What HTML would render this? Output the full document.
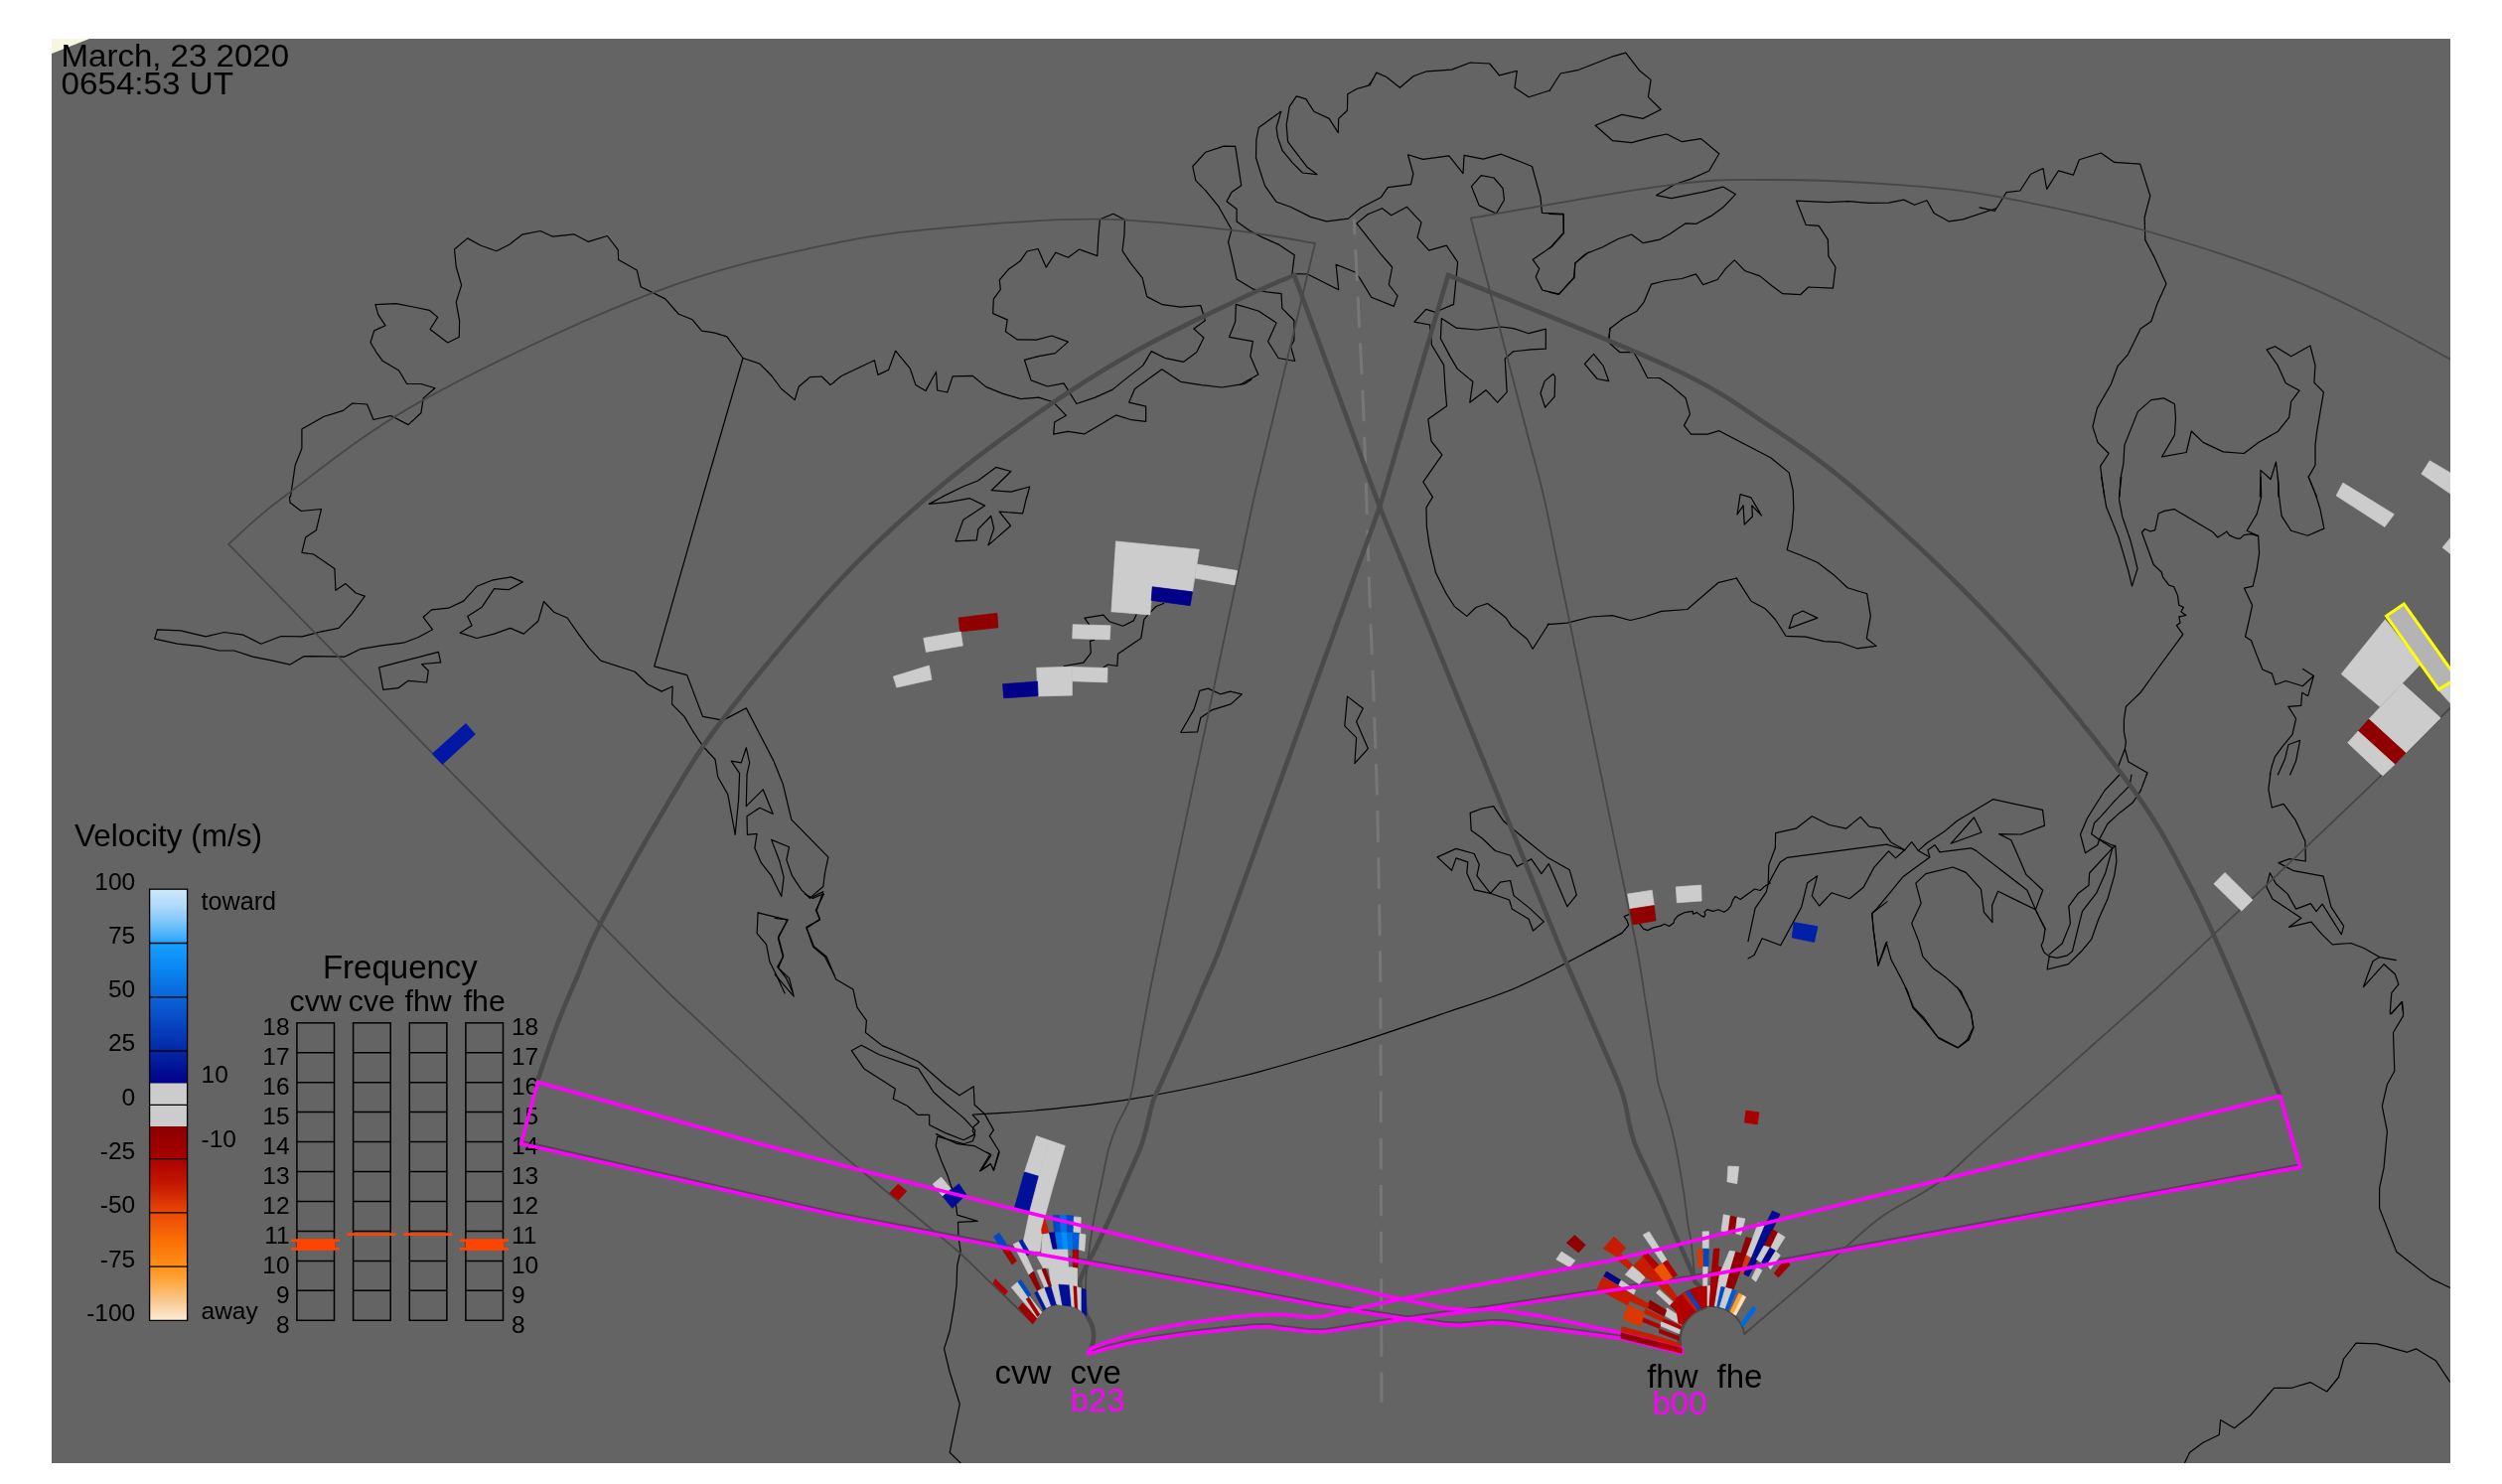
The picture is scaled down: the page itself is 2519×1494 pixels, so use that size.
<!DOCTYPE html>
<html><head><meta charset="utf-8"><title>SuperDARN fan plot</title>
<style>html,body{margin:0;padding:0;background:#fff;}body{width:2519px;height:1494px;overflow:hidden;}svg{display:block;}text{font-family:"Liberation Sans",sans-serif;}.c{fill:none;stroke:#000;stroke-width:1.2;stroke-linejoin:round;stroke-linecap:round;}.tn{fill:none;stroke:#474747;stroke-width:1.8;stroke-linejoin:miter;}.tk{fill:none;stroke:#4a4a4a;stroke-width:4.6;stroke-linejoin:miter;}.mg{fill:none;stroke:#ff00ff;stroke-width:3.6;stroke-linejoin:miter;}.bx{fill:none;stroke:#000;stroke-width:1.5;}</style></head><body>
<svg width="2519" height="1494" viewBox="0 0 2519 1494" style="will-change:transform">
<defs><clipPath id="mc"><rect x="52" y="39" width="2415" height="1434"/></clipPath>
<linearGradient id="gb" x1="0" y1="0" x2="0" y2="1"><stop offset="0" stop-color="#cce8fc"/><stop offset="0.07" stop-color="#b6ddfb"/><stop offset="0.16" stop-color="#84c8fa"/><stop offset="0.25" stop-color="#3eaefa"/><stop offset="0.28" stop-color="#16a0ff"/><stop offset="0.42" stop-color="#0a84f0"/><stop offset="0.555" stop-color="#0a64d8"/><stop offset="0.70" stop-color="#0844c0"/><stop offset="0.83" stop-color="#0228a8"/><stop offset="1" stop-color="#000088"/></linearGradient><linearGradient id="gr" x1="0" y1="0" x2="0" y2="1"><stop offset="0" stop-color="#8c0000"/><stop offset="0.16" stop-color="#a80000"/><stop offset="0.30" stop-color="#c41800"/><stop offset="0.44" stop-color="#e84808"/><stop offset="0.58" stop-color="#fa6c04"/><stop offset="0.72" stop-color="#ff9018"/><stop offset="0.80" stop-color="#ffa840"/><stop offset="0.90" stop-color="#f8c890"/><stop offset="1" stop-color="#ffecd8"/></linearGradient>
</defs>
<rect x="0" y="0" width="2519" height="1494" fill="#fff"/>
<rect x="52" y="39" width="2415" height="1434" fill="#646464"/>
<polygon points="52,39 90,39 52,54" fill="#f6f6e2"/>
<g clip-path="url(#mc)">
<polyline class="c" points="292.5,500.0 297.2,468.3 303.9,451.5 303.9,431.9 325.8,419.5 345.4,413.4 354.8,406.0 369.6,407.0 376.0,422.5 393.5,418.5 411.1,427.6 423.9,415.8 426.2,400.9 438.0,390.8 423.9,386.5 409.7,386.5 401.6,373.0 385.1,363.2 379.0,354.8 373.0,344.7 376.7,332.9 388.1,327.8 380.7,316.7 378.0,306.6 398.6,305.6 416.1,309.0 432.3,312.3 440.7,319.4 433.0,331.5 450.8,345.0 462.3,339.3 462.6,322.8 459.2,304.2 464.6,287.1 459.2,268.5 457.5,251.0 470.7,239.9 484.2,247.3 500.0,252.7 512.8,246.3 525.6,236.2 544.1,232.5 556.6,238.2 577.8,235.8 592.0,243.3 611.5,237.5 622.3,251.7 622.6,261.5 641.2,271.9 645.2,288.7 669.8,300.9 683.0,316.0 697.1,321.8 706.5,333.2 718.7,334.9 731.8,338.9 748.0,360.5 764.8,366.2 776.6,378.0 786.7,391.5 800.2,402.6 804.2,389.2 815.4,379.7 827.2,379.0 835.9,387.5 840.0,384.8"/>
<polyline class="c" points="840.0,384.3 847.1,378.5 880.4,362.7 883.9,377.4 894.6,372.4 901.6,353.2 916.2,370.8 921.9,387.6 932.0,393.4 942.5,374.2 943.7,393.0 953.8,395.0 959.2,378.9 979.0,378.3 992.6,389.4 1009.8,396.4 1027.6,401.7 1045.7,400.1 1060.3,404.7 1073.4,418.3 1061.7,424.9 1060.7,437.1 1075.0,434.4 1091.6,436.9 1107.8,427.4 1123.5,417.9 1139.1,422.7 1153.7,424.3 1153.7,409.2 1136.7,405.1 1142.5,391.4 1169.8,371.8 1188.6,384.3 1209.8,387.6 1230.1,390.0 1253.3,386.3 1260.0,381.9"/>
<polyline class="c" points="1083.9,406.5 1071.0,385.9 1054.6,389.0 1038.1,382.9 1031.4,362.3 1045.7,358.6 1062.3,355.6 1075.4,344.1 1058.9,338.0 1043.5,342.1 1024.3,341.9 1012.4,333.8 1014.2,321.9 999.7,315.6 1000.3,301.1 1007.3,291.4 1006.3,281.9 1015.4,271.1 1026.9,263.1 1034.0,253.0 1045.1,250.5 1053.2,269.1 1062.9,254.2 1075.4,259.2 1086.6,251.1 1104.8,257.6 1105.8,238.4 1107.4,220.8 1120.9,215.2 1132.4,221.2 1132.0,236.4 1130.0,252.5 1138.1,264.7 1150.2,279.8 1154.7,298.6 1170.4,306.7 1188.6,309.1 1208.8,307.5 1213.3,322.7 1201.8,331.0 1211.9,339.9 1204.8,354.6 1191.7,364.3 1173.5,360.7 1159.3,353.6 1150.6,368.1 1134.1,380.9 1119.9,392.4 1102.7,400.1 1083.9,406.5"/>
<polyline class="c" points="949.1,499.9 969.3,490.0 984.5,484.0 1002.7,470.4 1017.8,474.5 998.2,493.7 1017.8,495.1 1036.6,490.0 1034.0,499.9"/>
<polyline class="c" points="1248.7,387.2 1266.9,377.1 1258.8,358.5 1261.4,343.7 1237.6,339.3 1243.7,323.9 1244.3,306.4 1266.9,313.0 1285.1,324.9 1276.6,343.7 1287.1,360.5 1303.7,363.5 1299.6,348.8 1302.9,342.7 1302.9,322.5 1290.8,310.4 1290.1,295.6 1275.0,293.8 1261.9,291.2 1245.1,281.1 1240.0,257.8 1236.6,243.7 1240.0,231.2 1226.5,207.3 1213.8,191.8 1203.8,181.7 1200.8,167.5 1213.8,153.2 1232.1,147.1 1243.7,147.3 1246.7,166.9 1249.7,186.7 1240.0,193.6 1235.0,202.7 1245.1,210.4 1245.1,222.9 1257.8,232.0 1271.4,239.1 1287.1,246.1 1303.3,256.8 1300.9,275.6 1316.4,276.0 1347.7,291.8 1345.1,266.3 1364.3,274.0 1369.0,280.1 1380.7,299.3 1403.3,308.4 1407.0,297.9 1398.3,286.5 1401.7,269.0 1390.2,255.8 1365.9,224.9 1377.0,215.8 1391.6,209.7 1400.7,216.8 1416.5,208.3 1431.0,223.9 1427.0,239.1 1438.7,252.2 1456.3,247.1 1467.6,263.9 1463.5,306.4 1450.8,311.8 1445.4,314.4 1435.7,311.4 1423.9,324.1 1439.7,327.0 1440.7,342.7"/>
<polyline class="c" points="1289.7,112.3 1267.3,128.5 1264.9,140.6 1264.5,158.8 1268.9,173.0 1273.6,187.1 1285.1,203.3 1299.2,208.3 1319.5,218.4 1335.6,222.9 1357.4,220.1 1370.0,209.3 1390.2,198.8 1397.3,188.7 1420.5,185.7 1422.9,175.0 1417.5,155.8 1432.6,160.4 1458.9,156.8 1473.0,174.6 1474.1,156.4 1493.3,160.2 1511.4,155.2 1542.4,167.5 1550.9,198.2 1552.5,214.4 1574.1,215.4 1574.5,234.6 1562.6,248.1 1543.2,261.3 1549.8,270.6 1546.2,278.7 1552.9,292.2 1569.5,296.2 1584.8,279.1 1585.8,264.9 1596.3,255.8 1600.0,253.8"/>
<polyline class="c" points="1289.7,112.3 1285.1,128.5 1286.5,138.6 1291.2,151.7 1301.3,163.9 1311.4,174.0 1325.9,175.6 1315.8,167.9 1307.3,156.8 1296.6,142.7 1295.2,125.5 1298.2,107.3 1305.3,96.8 1314.8,99.6 1322.9,112.3 1338.2,119.4 1347.3,133.6 1347.7,119.4 1356.4,111.3 1356.8,94.8 1365.9,89.5 1377.7,86.1 1382.1,80.0"/>
<polyline class="c" points="1491.2,176.6 1504.0,179.0 1513.1,189.7 1514.5,201.3 1506.4,215.0 1489.2,206.9 1481.5,187.7 1491.2,176.6"/>
<polyline class="c" points="1451.4,320.5 1466.4,330.2 1487.2,332.0 1511.4,329.0 1523.6,330.6 1539.1,335.7 1556.3,331.2 1556.3,351.2 1541.8,351.8 1523.6,353.8 1515.5,360.9"/>
<polyline class="c" points="1451.4,320.5 1450.4,340.7 1458.9,356.9"/>
<polyline class="c" points="1560.0,91.5 1571.1,74.0 1588.3,70.7 1622.7,57.2 1636.8,53.1 1650.9,71.3 1662.1,80.4 1659.4,97.6 1672.2,110.3 1654.0,119.4 1632.8,115.4 1606.1,126.3 1623.7,141.7 1642.5,143.7 1665.1,137.6 1678.2,135.0 1693.4,142.7 1712.6,139.6 1730.8,154.8 1720.7,172.0 1702.5,180.1 1686.3,185.5 1667.7,196.6 1682.9,199.7 1717.6,192.6 1734.8,188.1 1747.3,195.6 1734.8,208.8 1722.7,217.4 1707.9,225.3 1696.8,224.9 1681.3,235.4 1671.2,241.1 1654.4,244.7 1642.5,236.0 1628.7,240.7 1613.6,248.8 1598.4,254.8 1585.9,264.9 1584.9,279.5 1569.5,296.3 1560.0,294.2"/>
<polyline class="c" points="1560.0,215.4 1574.1,215.8 1574.1,234.4 1560.0,250.2"/>
<polyline class="c" points="1620.2,339.9 1620.6,331.0 1634.4,320.5 1647.9,313.2 1655.0,304.3 1662.5,286.2 1677.2,282.5 1693.4,280.5 1707.5,275.9 1714.6,286.6 1729.2,281.5 1737.4,270.4 1746.3,261.9 1757.0,272.8 1771.8,277.9 1784.3,288.0 1794.8,295.7 1812.6,296.7 1820.7,289.0 1845.4,290.2 1848.0,269.0 1840.9,257.9 1840.3,241.1 1831.2,227.3 1818.1,226.3 1808.6,202.1 1840.9,203.7 1861.1,202.7 1881.3,204.3 1901.6,204.1 1916.7,201.1 1927.4,206.3 1940.0,201.7 1947.0,214.4 1962.2,222.9 1976.3,220.9 2009.7,209.8"/>
<polyline class="c" points="1993.0,208.9 2008.5,212.3 2020.0,193.7 2033.8,192.0 2044.6,175.2 2057.0,169.5 2060.7,190.4 2072.5,171.8 2087.4,176.2 2093.4,160.7 2115.3,154.0 2128.8,163.4 2154.7,165.1 2164.8,197.1 2159.1,219.0 2159.8,241.6 2169.2,259.4 2181.0,285.7 2171.6,306.6 2165.9,323.5 2155.1,330.9 2142.3,357.1 2132.2,368.3 2125.4,386.8 2111.3,411.1 2106.9,429.6 2112.0,445.4 2123.1,456.5 2114.6,469.3 2118.7,500.0"/>
<polyline class="c" points="2133.9,500.0 2134.9,481.8 2137.9,466.6 2138.9,448.1 2152.4,414.4 2165.9,402.6 2178.7,400.9 2189.4,406.7 2190.5,421.2 2189.4,438.0 2176.6,459.9 2201.2,455.5 2206.3,434.0 2218.1,445.4 2238.3,454.9 2259.2,456.5 2273.7,445.4 2293.2,434.6 2304.7,420.1 2306.7,404.3 2315.1,393.2 2301.3,385.8 2292.9,367.3 2282.1,352.1 2290.5,348.7 2306.7,358.8 2325.9,348.0 2331.0,367.9 2329.9,385.1 2339.4,394.9 2332.6,434.6 2331.0,448.1 2331.0,468.3 2324.2,480.1 2331.0,497.0 2332.6,500.0"/>
<polyline class="c" points="2275.4,500.0 2276.0,473.4 2286.1,482.5 2291.5,465.0 2293.9,486.9 2293.9,500.0"/>
<polyline class="c" points="1379.1,85.9 1385.8,73.1 1395.9,77.5 1409.4,88.3 1422.9,76.8 1436.4,71.8 1461.6,70.1 1480.2,63.0 1499.7,64.0 1509.5,75.8 1527.3,71.4 1525.0,88.3 1539.1,97.7 1560.4,91.0"/>
<polyline class="c" points="1440.4,330.0 1441.4,347.2 1453.6,367.4 1455.0,390.6 1456.6,408.8 1437.8,422.0 1441.0,444.2 1451.9,457.9 1432.9,485.2 1442.4,500.4 1436.0,510.9 1436.4,530.1 1439.0,548.3 1445.5,576.6 1455.6,596.8 1464.3,610.5 1476.8,620.4 1485.9,611.5 1497.6,607.5 1510.1,617.0 1516.2,622.0 1521.3,629.9"/>
<polyline class="c" points="1458.8,356.9 1467.3,371.4 1482.9,384.2 1479.8,405.2 1496.0,392.7 1507.7,405.2 1517.2,394.7 1515.2,361.3"/>
<polyline class="c" points="1563.7,376.5 1565.7,379.5 1565.1,399.3 1555.6,410.2 1551.0,395.7 1555.2,383.6 1563.7,376.5"/>
<polyline class="c" points="1604.5,356.3 1614.2,368.4 1619.7,383.6 1608.2,381.5 1595.4,366.4 1604.5,356.3"/>
<polyline class="c" points="1752.1,497.7 1762.8,500.8 1773.5,519.0 1763.8,508.9 1764.4,520.0 1756.3,528.1 1755.1,508.9 1749.0,518.0 1752.1,497.7"/>
<polyline class="c" points="1621.3,330.0 1619.9,339.1 1620.3,345.2 1631.0,354.7 1644.5,354.3 1650.6,364.4 1658.7,380.5 1670.8,380.5 1682.9,388.6 1697.1,400.7 1701.5,416.9 1695.5,428.4 1702.5,437.1 1719.3,437.1 1730.8,433.7 1756.7,447.2 1783.0,461.0 1801.2,475.9 1805.2,493.7 1805.8,511.9 1804.2,532.1 1799.2,553.3"/>
<polyline class="c" points="1558.2,628.7 1577.8,627.1 1602.1,621.0 1623.3,619.6 1641.5,624.5 1655.7,621.0 1672.8,615.4 1698.7,613.5 1729.8,586.7 1748.6,582.0"/>
<polyline class="c" points="1799.5,553.8 1813.6,559.2 1829.8,566.3 1845.9,578.4 1860.1,591.8 1879.7,597.8 1883.3,620.1 1879.3,642.7 1889.0,650.4 1869.6,652.8 1852.6,646.7 1836.2,645.7 1818.2,641.1 1798.0,640.3 1787.3,623.5 1777.2,612.8 1763.1,605.3 1748.3,582.1"/>
<polyline class="c" points="1805.5,619.5 1815.0,615.0 1829.8,622.1 1801.1,632.6 1805.5,619.5"/>
<polyline class="c" points="2132.8,771.0 2139.4,753.8 2142.9,767.0 2162.1,778.1 2161.1,779.9"/>
<polyline class="c" points="2139.4,753.8 2140.4,746.8 2138.4,736.7 2138.4,724.5 2140.4,711.4 2155.0,697.3 2173.2,672.0 2197.8,638.6 2191.4,629.6 2195.0,626.9 2193.8,620.9 2200.9,619.5 2195.8,615.8 2198.4,611.4 2193.8,609.3 2192.4,599.2 2188.7,590.8 2183.7,589.1 2177.6,581.1 2176.2,576.0 2168.1,568.3 2156.4,536.0 2159.4,532.5 2165.1,535.0 2169.7,533.6 2173.2,517.0 2179.2,514.4 2189.3,512.7 2201.5,520.0 2227.7,535.6 2232.8,541.0 2238.5,537.6 2241.9,535.0 2244.3,538.6 2252.0,542.2 2255.6,542.2 2259.1,538.6 2266.1,537.6 2273.6,539.6 2274.6,556.8 2272.2,573.0 2268.2,590.1 2259.5,592.2 2267.6,609.3 2264.1,625.5 2260.5,641.1 2266.5,644.7 2272.2,659.9 2277.9,674.0 2287.4,678.1 2291.0,689.2 2301.5,685.5 2318.3,690.8 2329.4,680.5 2323.7,700.7 2317.7,697.3 2316.7,710.4 2303.9,711.4 2311.6,723.5 2308.0,739.3 2298.5,750.8 2290.4,761.9 2287.4,771.0 2285.3,779.9"/>
<polyline class="c" points="2318.7,673.4 2329.4,680.5"/>
<polyline class="c" points="2273.6,539.6 2262.1,534.2 2272.2,517.4 2276.7,500.2 2276.2,480.0"/>
<polyline class="c" points="2293.4,480.0 2294.4,498.2 2297.1,519.4 2306.6,534.2 2323.3,539.2 2339.9,532.1 2335.9,512.3 2330.8,496.2 2324.1,480.0"/>
<polyline class="c" points="2115.6,480.0 2120.6,510.3 2132.8,540.6 2138.8,560.8 2142.9,575.0 2146.5,590.1 2152.0,572.6 2148.3,556.8 2144.5,542.7 2136.8,520.4 2133.4,502.2 2135.8,480.0"/>
<polyline class="c" points="2293.4,779.9 2300.5,764.0 2303.9,749.8 2315.7,745.2 2311.6,766.0 2305.6,779.9"/>
<polyline class="c" points="1917.6,855.8 1903.5,847.7 1893.4,834.2 1881.9,832.1 1873.2,822.4 1858.6,834.2 1841.9,830.5 1824.3,821.8 1808.1,834.2 1787.7,838.6 1787.3,853.8 1780.8,870.9 1780.2,890.1 1778.2,898.2 1767.1,914.4 1763.0,933.6 1760.0,947.7"/>
<polyline class="c" points="1780.2,890.1 1787.3,877.0 1792.3,867.9 1799.4,863.3 1899.5,850.1 1917.6,855.8"/>
<polyline class="c" points="1760.0,964.9 1766.1,961.5 1774.1,944.7 1792.7,951.8 1813.6,913.4 1819.6,889.1 1829.7,881.7 1824.3,901.9 1831.7,912.0 1843.9,898.8 1862.1,904.7 1876.2,893.2 1886.7,873.4 1901.5,856.8 1908.5,863.9 1917.6,855.8 1924.7,847.7 1931.4,856.4 1942.9,862.9 1927.7,874.0 1915.6,883.1 1902.5,899.2 1889.3,915.0 1884.7,919.5 1886.3,937.6 1891.0,972.0 1899.5,949.8 1903.9,965.9 1913.6,984.1 1920.7,998.3 1925.7,1014.4 1937.8,1027.6 1951.0,1044.1 1971.2,1054.9 1982.3,1046.8 1987.0,1034.6 1984.3,1019.5 1974.2,997.7 1959.1,984.1 1945.9,974.4 1935.8,962.9 1931.8,947.7 1924.7,929.6 1934.2,909.3 1928.8,889.1 1938.9,879.6 1966.1,873.0 1979.3,878.4 1994.4,895.2 1997.5,918.4 2006.0,928.5 2005.6,911.4 2011.6,897.2 2049.4,915.8"/>
<polyline class="c" points="1931.4,856.4 1939.9,848.7 1957.0,837.6 1970.2,826.5 2006.6,804.7 2056.5,815.4 2058.5,831.1 2034.9,840.0 2012.6,839.6 2024.8,845.7 2039.9,880.4 2056.7,896.2 2049.4,915.8 2053.0,923.5 2059.1,934.6 2057.1,947.7 2055.1,951.8 2058.1,958.9 2063.2,962.9 2071.2,964.3 2081.3,961.9 2086.4,957.8 2091.4,937.6 2096.5,917.4 2110.6,899.2 2119.7,879.0 2126.8,853.8"/>
<polyline class="c" points="1942.9,862.9 1940.9,855.8 1948.0,850.7 1953.0,857.8 1984.3,853.8 1989.4,856.4 2040.9,896.2 2049.4,915.8 2059.1,935.6"/>
<polyline class="c" points="1987.4,823.0 1995.0,838.0 1964.1,849.3 1987.4,823.0"/>
<polyline class="c" points="2063.2,962.9 2061.1,976.0 2082.4,970.6 2095.5,957.8 2105.6,945.7 2112.7,925.5 2121.8,905.3 2128.8,881.1 2130.9,866.9 2129.8,851.7 2126.8,853.8 2103.6,879.0 2103.0,891.2 2092.5,899.2 2082.8,912.4 2084.4,929.6 2076.3,949.8 2063.2,960.9"/>
<polyline class="c" points="2126.8,853.8 2112.7,844.7 2105.6,839.6 2108.6,828.5 2115.7,821.4 2129.8,805.3 2144.0,791.1 2146.0,780.0"/>
<polyline class="c" points="2161.2,780.0 2155.1,796.2 2147.0,808.3 2133.9,818.4 2121.8,829.5 2113.7,844.7 2125.8,850.7 2129.8,851.7"/>
<polyline class="c" points="2133.9,780.0 2118.7,796.2 2101.6,823.5 2094.5,840.0 2099.5,858.8 2111.7,850.7 2113.7,844.7"/>
<polyline class="c" points="1600.0,957.3 1633.0,939.3 1639.6,931.5 1638.1,926.7 1635.1,922.5 1641.4,920.1 1650.4,929.7 1654.6,935.1 1658.8,936.6 1664.7,933.9 1671.9,932.1 1675.8,930.3 1680.6,932.5 1685.1,929.1 1685.7,926.1 1689.3,921.9 1695.9,918.7 1704.1,917.4 1704.6,920.1 1708.5,918.6 1712.7,921.9 1715.7,923.1 1716.9,920.7 1716.1,918.3 1718.7,915.7 1724.7,917.4 1730.1,915.7 1735.7,918.3 1739.7,915.7 1742.7,911.8 1744.5,906.4 1747.2,902.4 1752.3,905.4 1755.9,902.8 1766.7,895.0 1772.1,896.5 1776.3,892.6 1782.3,889.0"/>
<polyline class="c" points="1900.0,907.6 1884.8,919.5 1886.0,933.9 1890.8,972.3 1898.6,949.5 1900.0,948.3"/>
<polyline class="c" points="291.4,500.0 292.1,506.1 303.2,514.5 323.5,512.5 318.4,533.7 307.6,541.1 303.9,556.3 315.7,558.0 336.9,572.4 337.9,594.3 348.0,587.6 358.2,597.0 367.3,600.1 353.8,618.6 341.0,632.4 323.5,635.8 304.2,640.8 283.0,640.5 262.8,648.2 244.9,639.2 225.7,636.5 207.2,640.8 181.9,634.8 158.4,633.8 155.7,643.2 178.6,648.2 202.2,650.6 220.7,655.0 235.8,655.0 254.4,661.1 274.6,665.1 292.1,669.1 305.9,660.7 347.0,661.1 363.2,653.3 384.1,649.9 406.0,647.2 421.2,641.5 435.6,633.8 426.2,621.3 434.6,613.9 451.5,612.2 466.6,605.1 480.1,590.3 495.3,584.2 514.5,580.9 526.3,585.9 512.1,593.7 497.6,592.7 485.2,611.2 470.7,620.6 475.1,629.7 463.3,637.1 480.1,642.5 497.6,638.1 513.8,632.4 527.3,638.1 541.8,625.3 547.5,605.5 557.6,616.2 571.1,622.0 582.9,638.8 593.0,652.3 604.8,665.1 639.2,676.2 652.0,688.7 666.1,696.1 677.2,691.0 676.5,708.9 689.0,721.4 697.4,735.8 707.5,751.0 720.0,764.5 722.7,782.0 732.8,799.9 740.2,840.3 743.6,804.9 744.6,778.6 736.2,766.2 746.3,767.9 751.3,752.7 754.7,767.9 752.0,779.6 751.3,811.7 768.2,794.8 778.3,819.4 764.8,813.3 752.0,821.8 752.4,840.3 762.1,839.3 759.8,853.8 766.5,868.9 776.6,881.7 786.7,902.6 789.1,883.1 785.0,867.3 776.6,845.4 794.5,852.8 791.8,865.6 797.5,881.7 806.9,895.9 815.4,904.3 828.8,897.6 822.1,916.8 825.5,925.2 812.0,934.6 818.7,953.2 830.5,963.3 840.0,981.8"/>
<polyline class="c" points="748.0,360.5 707.5,500.0 658.7,670.8 691.7,679.6 707.5,721.4 727.8,725.1 751.3,712.9 779.0,766.2 788.4,789.8 796.8,825.1 833.9,862.9 830.5,879.0 828.8,892.5 817.0,902.6"/>
<polyline class="c" points="763.1,918.8 792.8,926.2 783.4,944.7 788.4,963.3 782.7,973.4 791.8,985.2 798.5,1000.0"/>
<polyline class="c" points="763.1,918.8 762.1,939.7 771.6,950.8 774.9,968.3 781.7,981.8 790.1,1000.0"/>
<polyline class="c" points="381.7,671.8 441.4,656.3 443.7,666.8 424.5,668.5 431.3,675.2 429.6,687.0 411.1,685.3 400.9,692.7 385.8,694.4 381.7,671.8"/>
<polyline class="c" points="949.2,500.0 935.4,507.4 954.6,505.7 976.5,501.7 991.6,509.1 969.7,523.6 962.0,544.8 983.2,543.8 984.9,532.7 997.7,519.5 1000.7,532.0 995.0,548.9 1017.6,529.3 1006.1,515.2 1029.7,516.8 1033.7,500.0"/>
<polyline class="c" points="1188.7,737.5 1202.2,713.9 1207.9,695.4 1216.3,693.1 1228.5,698.8 1238.6,696.1 1250.4,698.8 1239.3,708.9 1220.7,714.6 1208.9,722.4 1205.6,736.9 1188.7,737.5"/>
<polyline class="c" points="1356.5,701.1 1372.3,713.3 1365.6,726.4 1377.4,753.7 1363.9,768.5 1365.6,742.6 1353.8,730.8 1356.5,701.1"/>
<polyline class="c" points="1447.1,862.9 1466.0,854.4 1484.2,859.5 1489.3,870.6 1486.9,881.7 1500.4,899.3 1510.5,888.1 1520.6,886.5 1524.0,901.6 1540.1,914.4 1554.3,927.9 1543.5,937.0 1539.1,925.2 1522.3,915.1 1519.6,906.0 1500.4,899.3 1484.5,895.9 1476.8,879.0 1477.8,867.9 1466.0,863.9 1461.6,876.3 1447.1,862.9"/>
<polyline class="c" points="1480.2,818.4 1492.0,814.0 1503.7,811.7 1513.9,826.8 1534.1,843.7 1557.7,862.9 1580.2,875.7 1587.3,900.9 1577.9,912.7 1559.3,869.6 1551.9,879.7 1541.8,864.9 1527.3,872.3 1520.6,861.2 1505.4,856.5 1492.0,843.7 1481.2,835.9 1480.2,818.4"/>
<polyline class="c" points="1521.3,630.1 1537.4,643.2 1543.2,653.3 1559.3,628.0"/>
<polyline class="c" points="1071.4,670.5 1090.8,667.2 1098.3,657.3 1097.5,645.4 1101.7,644.2"/>
<polyline class="c" points="1096.4,628.7 1091.9,622.2 1110.9,619.2 1116.9,625.7 1130.6,630.2 1141.2,624.9 1144.0,618.9"/>
<polyline class="c" points="1110.9,672.0 1115.4,669.0 1124.8,670.5 1125.6,658.3 1148.8,642.4 1151.9,623.4 1157.9,616.6 1164.0,610.5 1171.6,607.5"/>
<polyline class="c" points="829.5,900.0 821.4,916.2 825.5,925.9 811.9,933.4 819.4,952.6 832.2,963.3 841.7,985.9 858.9,996.0 862.9,1014.2 872.4,1027.4 871.4,1039.5 888.2,1052.6 905.4,1059.7 924.6,1068.8 951.9,1092.7 966.0,1102.8 980.2,1093.7 981.2,1112.3 991.3,1121.4 1000.4,1137.6 996.3,1143.6 1005.8,1158.8 1000.4,1178.0 997.3,1171.5 987.6,1178.6 997.8,1162.8 981.2,1153.7 972.1,1152.7 963.0,1151.3 942.4,1141.6"/>
<polyline class="c" points="979.2,1122.4 985.8,1129.5 980.2,1134.5 979.2,1138.6 981.8,1142.6 979.2,1148.7 970.1,1151.7 963.0,1149.7 943.8,1144.2 942.2,1153.7 947.8,1168.9 953.9,1183.1 957.9,1195.2"/>
<polyline class="c" points="867.3,1052.2 857.2,1057.7 870.0,1075.9 901.3,1096.1 899.3,1106.2 913.4,1113.3 924.0,1122.4 935.7,1122.4 935.7,1132.5 951.9,1140.6 970.1,1147.7 980.2,1142.6 981.8,1138.2 970.1,1125.4 951.9,1110.3 939.7,1099.2 924.6,1075.9 919.5,1073.9 885.1,1061.7 867.3,1052.2"/>
<polyline class="c" points="780.0,924.3 793.1,925.9 783.6,943.1 788.7,962.3 783.6,974.4 794.6,984.9 799.2,1003.1 780.0,980.9"/>
<polyline class="c" points="810.3,900.0 818.4,904.4 828.5,900.0"/>
<polyline class="c" points="2285.9,778.6 2283.9,794.8 2287.3,813.0 2299.1,809.4 2310.8,825.1 2320.9,847.0 2321.3,867.0 2305.1,864.6 2294.0,868.6 2309.2,876.7 2339.1,882.2 2347.0,913.1 2359.7,932.3 2357.3,940.8 2338.1,910.1 2332.0,917.7 2326.4,909.6 2311.6,915.1 2303.1,899.9 2291.4,889.8 2285.3,878.7 2281.9,892.9 2287.9,905.0 2316.9,924.2 2304.5,933.3 2327.0,928.2 2337.5,940.4 2348.2,950.9 2366.8,949.5 2379.9,954.5 2395.7,963.6 2412.3,966.7"/>
<polyline class="c" points="2395.7,963.6 2389.0,967.7 2384.0,980.8 2379.5,993.6 2400.2,970.7 2411.3,980.8 2414.9,990.9 2407.8,999.6 2406.2,1020.0"/>
<polyline class="c" points="2408.2,1020.0 2418.0,1008.7 2419.8,1020.0"/>
<polyline class="c" points="1918.2,994.0 1926.6,1014.2 1936.7,1024.3 1951.9,1045.5 1971.1,1054.6 1980.5,1046.9 1986.6,1034.4 1984.6,1019.3 1973.8,999.1 1970.4,994.0"/>
<polyline class="c" points="2406.8,1021.0 2418.6,1008.5 2419.6,1022.6 2409.5,1039.5 2410.8,1078.2 2403.4,1091.7 2398.3,1113.6 2403.4,1138.9 2400.0,1175.9 2395.6,1196.2 2395.6,1216.4 2412.8,1260.2 2447.2,1287.1 2466.4,1296.2"/>
<polyline class="c" points="2199.6,1472.4 2204.6,1462.3 2218.1,1452.2 2234.3,1444.5 2235.6,1429.6 2249.4,1437.7 2265.3,1425.3 2289.5,1397.3 2307.4,1397.3 2325.9,1391.6 2342.7,1401.0 2354.5,1386.5 2359.6,1368.0 2372.1,1352.2 2393.3,1352.8 2423.6,1361.3 2432.7,1357.9 2452.2,1369.7 2466.4,1390.9"/>
<polyline class="c" points="957.9,1195.2 958.8,1196.4 962.5,1213.4 963.7,1223.1 984.3,1229.4 964.5,1230.4 964.9,1244.9 967.1,1259.5 963.7,1274.0 963.1,1293.4 960.1,1317.7 956.2,1340.0 950.5,1357.9 956.2,1381.5 966.3,1413.5 959.6,1445.5 956.2,1462.3 967.4,1473.1"/>
<polyline class="c" points="986.7,1178.8 997.0,1161.8 993.4,1160.0"/>
<polyline class="c" points="1006.1,1160.0 1000.4,1178.2 997.4,1172.1 986.7,1178.8"/>
<path class="c" d="M979.8 1122.0 C990.2 1121.3 1016.1 1120.5 1042.2 1118.0 C1068.3 1115.5 1102.8 1112.4 1136.5 1106.9 C1170.2 1101.4 1209.5 1093.4 1244.3 1085.0 C1279.1 1076.6 1311.7 1066.7 1345.4 1056.3 C1379.1 1045.9 1416.2 1033.0 1446.5 1022.6 C1476.8 1012.2 1501.7 1004.9 1527.3 994.0 C1552.9 983.1 1582.4 966.4 1600.0 957.3 C1617.6 948.2 1627.5 942.3 1633.0 939.3"/>
<path class="tn" d="M1038.8 1331.0 C1032.6 1325.1 1014.1 1307.3 1001.8 1295.5 C989.4 1283.7 977.8 1271.7 964.7 1260.0 C951.6 1248.3 937.0 1236.8 923.1 1225.2 C909.3 1213.6 895.4 1202.1 881.6 1190.5 C867.7 1178.9 854.0 1168.1 840.0 1155.7 C826.0 1143.3 811.8 1129.2 797.6 1116.0 C783.5 1102.8 769.4 1089.6 755.2 1076.3 C741.1 1063.1 727.0 1049.9 712.9 1036.7 C698.8 1023.4 685.1 1011.2 670.5 997.0 C655.9 982.8 640.4 966.5 625.3 951.2 C610.3 935.9 595.2 920.6 580.2 905.4 C565.1 890.1 550.1 874.8 535.0 859.5 C520.0 844.3 504.9 829.0 489.9 813.7 C474.8 798.4 459.4 782.9 444.7 767.9 C430.0 752.9 416.1 738.6 401.8 723.9 C387.5 709.2 373.2 694.5 358.9 679.9 C344.6 665.2 330.2 650.5 315.9 635.8 C301.6 621.2 287.3 606.5 273.0 591.8 C258.7 577.1 237.3 555.1 230.1 547.8 L230.1 547.8 C239.4 539.8 253.3 524.2 286.0 500.0 C318.7 475.8 364.4 436.8 426.2 402.6 C488.0 368.4 588.0 321.1 657.0 294.8 C726.0 268.5 787.0 256.0 840.0 244.8 C893.0 233.6 929.9 231.4 974.8 227.4 C1019.7 223.4 1065.1 220.0 1109.5 220.7 C1153.9 221.4 1205.2 227.8 1241.0 231.8 C1276.8 235.9 1310.2 242.8 1324.0 245.0 L1324.0 245.0 C1321.5 255.6 1313.8 287.5 1308.7 308.8 C1303.6 330.0 1298.5 351.2 1293.4 372.5 C1288.3 393.8 1283.2 415.0 1278.1 436.2 C1273.0 457.5 1267.7 478.4 1262.8 500.0 C1257.9 521.6 1253.5 543.8 1248.9 565.7 C1244.2 587.6 1239.6 609.5 1235.0 631.4 C1230.3 653.3 1225.7 675.2 1221.1 697.1 C1216.4 719.0 1211.8 741.0 1207.1 762.9 C1202.5 784.8 1197.9 806.7 1193.2 828.6 C1188.6 850.5 1184.0 872.4 1179.3 894.3 C1174.7 916.2 1169.3 941.4 1165.4 960.0 C1161.5 978.6 1159.2 989.8 1156.2 1005.8 C1153.2 1021.8 1149.8 1041.3 1147.1 1056.2 C1144.4 1071.1 1142.1 1086.0 1140.2 1095.2 C1138.3 1104.4 1138.3 1104.7 1135.6 1111.2 C1132.9 1117.7 1127.3 1126.5 1124.1 1134.1 C1120.8 1141.7 1118.6 1147.8 1116.1 1157.0 C1113.6 1166.2 1111.8 1177.3 1109.3 1189.1 C1106.8 1200.9 1103.3 1216.5 1101.2 1228.0 C1099.1 1239.5 1098.0 1247.5 1096.7 1257.8 C1095.4 1268.1 1093.7 1278.7 1093.2 1289.9 C1092.8 1301.1 1093.9 1319.0 1094.0 1324.8"/>
<path class="tn" d="M1706.6 1290.4 C1706.3 1286.9 1705.4 1276.5 1704.7 1269.6 C1704.0 1262.7 1703.3 1255.0 1702.4 1248.9 C1701.5 1242.8 1700.7 1240.7 1699.5 1233.0 C1698.3 1225.3 1697.2 1213.8 1695.5 1202.7 C1693.8 1191.6 1691.4 1177.1 1689.4 1166.3 C1687.4 1155.5 1685.8 1147.5 1683.4 1138.0 C1681.1 1128.5 1677.7 1117.7 1675.3 1109.6 C1672.9 1101.5 1670.9 1097.5 1669.2 1089.4 C1667.5 1081.3 1667.2 1074.2 1665.2 1061.1 C1663.2 1048.0 1659.8 1027.5 1657.1 1010.6 C1654.4 993.8 1652.6 979.4 1649.0 960.0 C1645.4 940.6 1640.0 916.2 1635.5 894.3 C1631.0 872.4 1626.5 850.5 1621.9 828.6 C1617.4 806.7 1612.9 784.8 1608.4 762.9 C1603.9 741.0 1599.4 719.0 1594.9 697.1 C1590.4 675.2 1585.9 653.3 1581.4 631.4 C1576.8 609.5 1572.3 587.6 1567.8 565.7 C1563.3 543.8 1559.0 520.3 1554.3 500.0 C1549.6 479.7 1544.5 462.6 1539.6 443.9 C1534.7 425.3 1529.8 406.6 1524.9 387.9 C1520.0 369.2 1515.1 350.5 1510.2 331.8 C1505.3 313.1 1500.4 294.4 1495.5 275.8 C1490.6 257.1 1483.2 229.0 1480.8 219.7 L1480.8 219.7 C1514.0 214.1 1630.1 192.8 1680.0 186.3 C1729.9 179.9 1740.9 181.0 1780.0 181.0 C1819.1 181.0 1875.5 183.3 1914.8 186.3 C1954.1 189.3 1975.0 191.1 2016.0 198.8 C2057.0 206.5 2110.3 217.9 2160.8 232.5 C2211.3 247.1 2268.1 264.9 2319.0 286.4 C2369.9 307.9 2426.2 339.2 2466.4 361.5 C2506.6 383.8 2544.4 410.2 2560.0 420.0"/>
<path class="tn" d="M2480.0 700.0 C2473.1 706.8 2452.2 727.1 2438.3 740.6 C2424.5 754.2 2410.0 768.4 2396.7 781.3 C2383.4 794.2 2371.2 805.6 2358.5 817.8 C2345.7 830.0 2333.0 842.1 2320.2 854.3 C2307.5 866.5 2294.7 878.8 2282.0 890.8 C2269.3 902.8 2256.9 914.4 2244.3 926.2 C2231.8 938.0 2219.2 949.8 2206.7 961.6 C2194.1 973.4 2182.6 984.6 2169.0 997.0 C2155.4 1009.4 2139.6 1023.1 2124.9 1036.2 C2110.2 1049.2 2095.5 1062.3 2080.8 1075.3 C2066.1 1088.4 2051.4 1101.4 2036.7 1114.5 C2022.0 1127.5 2007.3 1140.6 1992.6 1153.6 C1977.9 1166.7 1964.8 1180.9 1948.5 1192.8 C1932.2 1204.7 1911.3 1212.9 1894.6 1224.8 C1877.9 1236.7 1863.9 1251.0 1848.6 1264.1 C1833.2 1277.2 1817.9 1290.3 1802.5 1303.4 C1787.2 1316.5 1764.2 1336.2 1756.5 1342.7"/>
<path class="tn" d="M1039.6 1332.3 A32 32 0 0 1 1094 1324.8"/>
<path class="tn" d="M1717.9 1315.4 A34.4 34.4 0 0 1 1756.5 1344"/>
<path d="M1363.2 220.7 C1363.9 234.4 1365.8 272.4 1367.3 303.0 C1368.8 333.6 1370.9 371.2 1372.3 404.0 C1373.7 436.8 1374.6 467.2 1375.7 500.0 C1376.8 532.8 1377.8 567.3 1379.0 601.0 C1380.2 634.7 1381.8 668.3 1383.0 702.0 C1384.2 735.7 1385.6 769.3 1386.5 803.0 C1387.4 836.7 1387.9 870.5 1388.5 904.0 C1389.1 937.5 1389.6 954.7 1389.9 1004.0 C1390.2 1053.3 1390.2 1132.0 1390.4 1200.0 C1390.6 1268.0 1390.8 1376.5 1390.9 1411.8" fill="none" stroke="#777777" stroke-width="3" stroke-dasharray="31.5 15.6" stroke-dashoffset="16.4"/>
<path class="tk" d="M541.5 1087.0 C544.7 1077.8 554.2 1049.2 560.9 1031.6 C567.6 1014.0 574.5 998.6 581.8 981.5 C589.1 964.4 590.0 957.5 604.8 929.2 C619.6 900.9 650.0 845.9 670.5 811.7 C691.0 777.5 699.5 761.0 727.8 724.0 C756.0 687.0 805.6 627.3 840.0 590.0 C874.4 552.7 900.6 528.7 934.3 500.0 C968.0 471.3 1007.2 442.2 1042.0 417.8 C1076.8 393.4 1109.3 372.9 1143.0 353.8 C1176.7 334.7 1217.3 315.8 1244.0 303.0 C1270.7 290.2 1293.2 281.3 1303.0 277.0 L1303.0 277.0 C1306.6 286.7 1317.3 315.8 1324.5 335.2 C1331.7 354.7 1338.8 374.1 1346.0 393.5 C1353.2 412.9 1360.3 432.3 1367.5 451.8 C1374.7 471.2 1381.0 489.6 1389.0 510.0 C1397.0 530.4 1406.5 552.9 1415.3 574.3 C1424.1 595.7 1432.8 617.1 1441.6 638.6 C1450.4 660.0 1459.1 681.4 1467.9 702.9 C1476.7 724.3 1485.4 745.7 1494.2 767.1 C1503.0 788.6 1511.7 810.0 1520.5 831.4 C1529.3 852.9 1538.0 874.3 1546.8 895.7 C1555.6 917.1 1565.5 941.9 1573.1 960.0 C1580.7 978.1 1585.8 989.3 1592.4 1004.5 C1599.0 1019.7 1606.2 1036.2 1612.6 1051.0 C1619.0 1065.8 1626.8 1083.0 1630.8 1093.5 C1634.8 1104.0 1635.1 1107.0 1636.8 1113.7 C1638.5 1120.4 1639.2 1127.2 1640.9 1133.9 C1642.6 1140.6 1644.0 1146.3 1647.0 1154.1 C1650.0 1161.8 1654.7 1171.0 1659.1 1180.4 C1663.5 1189.9 1668.5 1200.0 1673.2 1210.8 C1677.9 1221.6 1683.9 1236.5 1687.5 1245.0 C1691.1 1253.5 1692.3 1255.3 1695.0 1261.5 C1697.7 1267.7 1701.9 1277.1 1703.8 1281.9 C1705.7 1286.7 1705.2 1287.9 1706.6 1290.4 C1708.0 1292.9 1710.4 1292.8 1712.3 1297.0 C1714.2 1301.2 1717.0 1312.3 1717.9 1315.4"/>
<path class="tk" d="M1094.0 1324.8 C1092.9 1320.0 1088.2 1303.0 1087.5 1296.0 C1086.8 1289.0 1087.1 1289.8 1089.8 1283.0 C1092.5 1276.2 1098.5 1265.8 1103.5 1255.5 C1108.5 1245.2 1114.2 1233.0 1119.6 1221.2 C1124.9 1209.4 1130.6 1196.0 1135.6 1184.5 C1140.5 1173.0 1145.9 1162.0 1149.3 1152.4 C1152.7 1142.9 1154.3 1134.5 1156.2 1127.2 C1158.1 1120.0 1158.5 1115.4 1160.8 1108.9 C1163.1 1102.4 1163.9 1102.0 1170.0 1088.3 C1176.1 1074.5 1190.5 1042.2 1197.5 1026.4 C1204.5 1010.6 1207.0 1004.3 1211.8 993.2 C1216.6 982.1 1219.8 976.2 1226.1 960.0 C1232.4 943.8 1241.6 917.1 1249.4 895.7 C1257.1 874.3 1264.9 852.9 1272.6 831.4 C1280.4 810.0 1288.2 788.6 1295.9 767.1 C1303.7 745.7 1311.4 724.3 1319.2 702.9 C1326.9 681.4 1334.7 660.0 1342.5 638.6 C1350.2 617.1 1358.0 595.7 1365.7 574.3 C1373.5 552.9 1382.2 530.4 1389.0 510.0 C1395.8 489.6 1400.5 471.2 1406.2 451.8 C1412.0 432.3 1417.8 412.9 1423.5 393.5 C1429.2 374.1 1435.0 354.7 1440.8 335.2 C1446.5 315.8 1455.1 286.7 1458.0 277.0 L1458.0 277.0 C1495.0 292.3 1626.3 343.8 1680.0 369.0 C1733.7 394.2 1747.3 406.2 1780.0 428.0 C1812.7 449.8 1836.7 465.5 1876.0 500.0 C1915.3 534.5 1971.3 586.5 2016.0 634.8 C2060.7 683.1 2112.6 747.1 2144.0 789.8 C2175.4 832.5 2186.4 856.3 2204.6 890.8 C2222.8 925.3 2237.8 961.5 2253.0 997.0 C2268.2 1032.5 2288.5 1085.8 2295.6 1103.5"/>
<polyline class="tk" points="1693.9,1358.9 1692.9,1361.2 1631.6,1345.9 1515.8,1330.8 1502.9,1330.3 1469.8,1333.1 1453.3,1332.1 1392.6,1322.9 1331.9,1313.7 1240.0,1296.3 1210.6,1290.9 1042.2,1260.6 840.0,1221.8 524.6,1150.1"/>
<polyline class="tk" points="2315.8,1173.7 1700.0,1286.2 1607.7,1300.0 1493.7,1316.9 1423.9,1325.7 1392.6,1330.3 1333.8,1339.5 1319.1,1339.5 1295.2,1336.7 1285.0,1335.5 1276.8,1334.3 1260.9,1334.7 1228.9,1337.9 1196.9,1341.5 1164.9,1345.9 1141.0,1349.9 1117.0,1355.5 1096.2,1361.9"/>
<path class="tk" d="M1094 1324.8 A32 32 0 0 1 1097.6 1359.5"/>
<path class="tk" d="M1692.9 1361.6 A34.4 34.4 0 0 1 1717.9 1315.4"/>
<g stroke-width="0.7" stroke-linejoin="miter">
<polygon points="1123.5,544.9 1207.3,553.2 1200.5,595.8 1160.2,590.8 1157.9,618.9 1118.9,615.8" fill="#cccccc" stroke="#cccccc"/>
<polygon points="1160.2,590.8 1200.5,595.8 1198.2,609.7 1159.2,604.4" fill="#000088" stroke="#000088"/>
<polygon points="1205.0,568.0 1245.7,574.5 1243.0,588.9 1203.2,582.1" fill="#cccccc" stroke="#cccccc"/>
<polygon points="965.1,621.9 1003.8,617.3 1005.0,631.8 966.6,635.9" fill="#900000" stroke="#900000"/>
<polygon points="929.8,642.4 967.3,636.0 969.3,650.0 932.4,656.4" fill="#cccccc" stroke="#cccccc"/>
<polygon points="899.4,681.1 935.4,670.0 938.0,684.2 902.8,692.1" fill="#cccccc" stroke="#cccccc"/>
<polygon points="1080.2,628.7 1118.0,629.8 1117.2,643.9 1079.7,642.8" fill="#cccccc" stroke="#cccccc"/>
<polygon points="1043.7,672.3 1079.4,671.3 1079.4,700.1 1044.8,700.9" fill="#cccccc" stroke="#cccccc"/>
<polygon points="1079.4,671.6 1115.1,672.5 1114.7,686.9 1079.4,685.7" fill="#cccccc" stroke="#cccccc"/>
<polygon points="1009.6,688.7 1044.5,686.1 1045.1,700.6 1010.6,702.8" fill="#000088" stroke="#000088"/>
<polygon points="469.0,728.4 478.4,739.2 445.4,769.5 435.3,758.8" fill="#0018a4" stroke="#0018a4"/>
<polygon points="1638.6,900.1 1663.2,896.2 1665.3,911.5 1641.1,915.3" fill="#cccccc" stroke="#cccccc"/>
<polygon points="1641.1,915.3 1665.3,911.5 1667.1,926.7 1644.1,930.9" fill="#900000" stroke="#900000"/>
<polygon points="1687.3,892.9 1712.7,891.1 1713.1,907.0 1688.4,908.8" fill="#cccccc" stroke="#cccccc"/>
<polygon points="1806.0,928.5 1830.0,932.7 1826.6,948.6 1804.2,943.9" fill="#0020a8" stroke="#0020a8"/>
<polygon points="2446.3,463.8 2471.7,478.8 2471.7,500.2 2437.8,477.1" fill="#cccccc" stroke="#cccccc"/>
<polygon points="2358.9,486.1 2410.3,517.7 2400.9,530.5 2352.1,499.0" fill="#cccccc" stroke="#cccccc"/>
<polygon points="2471.7,535.9 2459.1,551.2 2471.7,561.4" fill="#cccccc" stroke="#cccccc"/>
<polygon points="2401.4,623.7 2357.2,678.6 2396.0,711.4 2429.3,676.7 2437.0,668.6" fill="#cccccc" stroke="#cccccc"/>
<polygon points="2418.8,688.1 2384.9,724.0 2422.0,758.0 2457.2,722.8" fill="#cccccc" stroke="#cccccc"/>
<polygon points="2384.9,724.0 2374.2,736.1 2411.1,769.6 2422.0,758.0" fill="#900000" stroke="#900000"/>
<polygon points="2374.2,736.1 2363.7,747.8 2398.9,781.0 2411.1,769.6" fill="#cccccc" stroke="#cccccc"/>
<polygon points="2455.2,694.9 2471.7,685.1 2471.7,713.1" fill="#cccccc" stroke="#cccccc"/>
<polygon points="2240.0,878.4 2267.9,906.0 2256.8,917.1 2228.9,889.8" fill="#cccccc" stroke="#cccccc"/>
<polygon points="904.3,1192.1 912.8,1199.1 904.6,1208.2 895.5,1201.2" fill="#a80000" stroke="#a80000"/>
<polygon points="947.6,1185.1 957.0,1196.4 948.9,1203.9 939.1,1192.1" fill="#cccccc" stroke="#cccccc"/>
<polygon points="965.5,1191.8 972.8,1202.5 958.8,1216.4 949.1,1204.6" fill="#000c94" stroke="#000c94"/>
</g>
<polygon points="2420.3,608.0 2402.6,620.1 2455.2,694.1 2474.2,682.7 2474.2,683.7" fill="#b4b4b4" stroke="#ffff00" stroke-width="3"/>
<g stroke-width="0.7" stroke-linejoin="miter"><polygon points="1043.4,1143.6 1056.1,1148.0 1046.0,1184.3 1031.5,1179.9" fill="#cccccc" stroke="#cccccc"/>
<polygon points="1031.5,1179.9 1046.0,1184.3 1036.8,1219.3 1021.5,1215.4" fill="#001098" stroke="#001098"/>
<polygon points="1056.1,1148.0 1072.3,1153.6 1060.4,1193.9 1052.1,1224.2 1049.0,1243.9 1046.9,1260.0 1028.5,1258.8 1036.8,1219.3 1046.0,1184.3" fill="#cccccc" stroke="#cccccc"/>
<polygon points="1051.7,1226.3 1056.1,1241.2 1049.0,1242.1 1048.6,1237.7" fill="#c81c00" stroke="#c81c00"/>
<polygon points="1059.9,1223.6 1067.2,1223.6 1068.0,1240.6 1061.5,1240.6" fill="#0048c4" stroke="#0048c4"/>
<polygon points="1067.2,1223.6 1074.0,1223.6 1074.4,1240.6 1068.0,1240.6" fill="#0070e4" stroke="#0070e4"/>
<polygon points="1074.0,1223.6 1080.9,1224.0 1080.9,1240.6 1074.4,1240.6" fill="#0048c4" stroke="#0048c4"/>
<polygon points="1081.3,1224.9 1088.2,1225.7 1087.8,1240.9 1080.9,1240.6" fill="#cccccc" stroke="#cccccc"/>
<polygon points="1056.2,1241.0 1062.3,1240.9 1064.7,1257.4 1059.1,1258.0" fill="#000088" stroke="#000088"/>
<polygon points="1062.3,1240.9 1068.8,1240.9 1070.4,1257.6 1064.7,1257.4" fill="#0070e4" stroke="#0070e4"/>
<polygon points="1068.8,1240.9 1074.4,1240.9 1075.6,1258.0 1070.4,1257.6" fill="#0090fc" stroke="#0090fc"/>
<polygon points="1074.4,1240.9 1080.1,1241.0 1080.5,1258.2 1075.6,1258.0" fill="#0070e4" stroke="#0070e4"/>
<polygon points="1080.1,1241.0 1087.0,1241.7 1086.2,1258.2 1080.5,1258.2" fill="#005cd8" stroke="#005cd8"/>
<polygon points="1087.0,1241.8 1093.0,1243.1 1091.8,1259.6 1086.2,1258.0" fill="#cccccc" stroke="#cccccc"/>
<polygon points="1049.4,1243.1 1055.8,1241.7 1059.5,1258.0 1055.8,1276.6 1052.6,1277.0 1048.5,1263.7" fill="#cccccc" stroke="#cccccc"/>
<polygon points="1044.1,1265.3 1048.5,1263.7 1053.8,1275.8 1050.6,1277.0" fill="#cccccc" stroke="#cccccc"/>
<polygon points="1053.4,1258.0 1074.8,1258.0 1075.6,1275.8 1084.5,1275.8 1084.5,1295.6 1058.7,1295.2 1055.8,1276.6" fill="#cccccc" stroke="#cccccc"/>
<polygon points="1080.1,1258.0 1085.8,1258.8 1085.0,1276.2 1080.1,1275.4" fill="#a00000" stroke="#a00000"/>
<polygon points="1044.1,1279.1 1048.9,1277.8 1055.8,1294.8 1051.8,1296.5" fill="#cccccc" stroke="#cccccc"/>
<polygon points="1048.9,1277.8 1052.6,1277.0 1058.7,1295.2 1055.8,1294.8" fill="#900000" stroke="#900000"/>
<polygon points="1020.2,1252.8 1026.7,1249.5 1040.5,1279.9 1036.0,1283.5" fill="#cccccc" stroke="#cccccc"/>
<polygon points="1036.0,1283.5 1040.5,1279.9 1047.7,1296.9 1044.5,1299.7" fill="#900000" stroke="#900000"/>
<polygon points="1025.9,1249.5 1029.1,1247.9 1037.6,1262.1 1034.0,1264.1" fill="#0020a8" stroke="#0020a8"/>
<polygon points="1000.4,1245.1 1006.1,1241.2 1013.3,1252.4 1008.9,1258.0" fill="#0048c4" stroke="#0048c4"/>
<polygon points="1009.7,1258.8 1015.4,1256.8 1023.5,1269.4 1019.0,1273.0" fill="#a00000" stroke="#a00000"/>
<polygon points="1002.0,1287.6 1014.6,1300.1 1011.7,1303.7 1000.0,1292.0" fill="#b00000" stroke="#b00000"/>
<polygon points="1025.5,1316.7 1029.5,1311.8 1044.1,1326.8 1039.6,1332.9" fill="#a00000" stroke="#a00000"/>
<polygon points="1018.2,1296.1 1024.7,1290.4 1048.9,1321.1 1044.1,1326.8" fill="#cccccc" stroke="#cccccc"/>
<polygon points="1024.7,1290.4 1027.9,1288.4 1038.0,1303.7 1035.2,1305.8" fill="#0048c4" stroke="#0048c4"/>
<polygon points="1033.2,1307.8 1036.0,1306.2 1046.9,1323.2 1044.5,1325.6" fill="#a00000" stroke="#a00000"/>
<polygon points="1041.7,1301.7 1044.9,1299.7 1053.4,1316.7 1050.6,1319.1" fill="#0018a0" stroke="#0018a0"/>
<polygon points="1044.9,1299.7 1051.8,1296.5 1058.3,1314.3 1053.4,1316.7" fill="#cccccc" stroke="#cccccc"/>
<polygon points="1051.8,1296.5 1058.7,1295.2 1063.9,1313.0 1058.3,1314.3" fill="#001098" stroke="#001098"/>
<polygon points="1058.7,1295.2 1065.9,1293.2 1069.6,1313.9 1063.9,1313.0" fill="#cccccc" stroke="#cccccc"/>
<polygon points="1065.9,1293.2 1076.9,1294.0 1078.9,1315.1 1069.6,1313.9" fill="#001094" stroke="#001094"/>
<polygon points="1076.9,1294.0 1080.9,1294.8 1082.1,1315.9 1078.9,1315.1" fill="#cccccc" stroke="#cccccc"/>
<polygon points="1080.9,1294.8 1084.5,1295.6 1085.4,1317.5 1082.1,1315.9" fill="#a00000" stroke="#a00000"/>
<polygon points="1084.5,1295.6 1089.0,1297.3 1089.0,1320.3 1085.4,1317.5" fill="#cccccc" stroke="#cccccc"/>
<polygon points="1089.0,1297.3 1093.0,1298.1 1093.9,1324.8 1089.0,1320.3" fill="#001094" stroke="#001094"/>
<polygon points="1670.8,1338.0 1690.6,1345.6 1690.1,1349.3 1670.3,1341.8" fill="#a00000" stroke="#a00000"/>
<polygon points="1672.6,1330.5 1691.5,1338.5 1690.6,1342.7 1671.7,1334.7" fill="#cccccc" stroke="#cccccc"/>
<polygon points="1674.1,1327.2 1692.9,1334.7 1692.0,1338.0 1673.1,1330.0" fill="#b00000" stroke="#b00000"/>
<polygon points="1678.3,1316.8 1696.2,1328.6 1692.9,1334.2 1675.9,1324.3" fill="#cccccc" stroke="#cccccc"/>
<polygon points="1681.1,1314.0 1688.7,1307.4 1697.2,1302.2 1708.5,1296.5 1717.9,1295.1 1717.9,1315.4 1709.4,1318.2 1702.8,1322.0 1698.1,1326.2 1696.2,1328.6" fill="#b00000" stroke="#b00000"/>
<polygon points="1694.3,1303.1 1697.2,1301.9 1709.4,1317.9 1706.6,1319.6" fill="#c81c00" stroke="#c81c00"/>
<polygon points="1697.2,1301.9 1700.2,1300.0 1712.3,1316.3 1709.4,1317.9" fill="#0048c4" stroke="#0048c4"/>
<polygon points="1661.3,1309.1 1677.8,1319.2 1675.5,1325.3 1657.7,1316.0" fill="#900000" stroke="#900000"/>
<polygon points="1656.6,1317.7 1674.5,1326.2 1673.6,1330.5 1655.2,1322.0" fill="#c81c00" stroke="#c81c00"/>
<polygon points="1654.2,1326.7 1671.7,1333.8 1670.8,1337.5 1653.3,1330.5" fill="#b00000" stroke="#b00000"/>
<polygon points="1638.7,1314.0 1655.2,1321.0 1651.9,1335.2 1634.2,1328.1" fill="#dc3800" stroke="#dc3800"/>
<polygon points="1614.2,1285.7 1660.4,1313.0 1658.0,1317.3 1640.6,1309.7 1638.7,1314.0 1608.0,1297.5 1611.3,1290.4" fill="#c81c00" stroke="#c81c00"/>
<polygon points="1617.5,1280.0 1632.1,1289.0 1629.7,1293.7 1614.6,1284.7" fill="#000088" stroke="#000088"/>
<polygon points="1632.1,1289.0 1646.7,1298.9 1644.8,1303.1 1629.7,1293.7" fill="#cccccc" stroke="#cccccc"/>
<polygon points="1625.0,1245.1 1636.8,1256.4 1628.3,1265.4 1614.2,1256.9" fill="#c81c00" stroke="#c81c00"/>
<polygon points="1627.4,1267.3 1632.1,1262.5 1644.3,1273.9 1640.6,1278.1" fill="#c81c00" stroke="#c81c00"/>
<polygon points="1643.4,1274.8 1656.6,1285.7 1650.5,1292.7 1636.3,1283.3" fill="#cccccc" stroke="#cccccc"/>
<polygon points="1654.2,1243.2 1660.4,1239.9 1678.3,1268.7 1673.6,1271.5" fill="#cccccc" stroke="#cccccc"/>
<polygon points="1644.8,1273.9 1654.2,1264.4 1671.7,1282.8 1688.7,1305.5 1684.9,1309.2 1666.0,1290.4 1657.5,1286.6" fill="#c81c00" stroke="#c81c00"/>
<polygon points="1665.1,1277.6 1674.5,1271.5 1684.4,1285.7 1675.5,1290.4" fill="#ec5400" stroke="#ec5400"/>
<polygon points="1654.2,1264.4 1658.5,1261.6 1669.8,1273.4 1665.1,1277.6" fill="#b00000" stroke="#b00000"/>
<polygon points="1674.5,1271.5 1678.3,1268.7 1688.7,1283.8 1684.4,1286.1" fill="#b00000" stroke="#b00000"/>
<polygon points="1667.5,1301.5 1670.6,1298.4 1684.0,1310.4 1681.1,1314.0" fill="#cccccc" stroke="#cccccc"/>
<polygon points="1735.3,1222.7 1742.2,1224.2 1740.0,1240.0 1732.9,1239.2" fill="#cccccc" stroke="#cccccc"/>
<polygon points="1742.2,1224.2 1749.0,1225.6 1747.1,1241.6 1740.0,1240.0" fill="#900000" stroke="#900000"/>
<polygon points="1749.0,1225.6 1757.0,1227.0 1752.7,1243.2 1747.1,1241.6" fill="#cccccc" stroke="#cccccc"/>
<polygon points="1714.1,1240.0 1720.4,1239.7 1720.2,1257.2 1714.3,1257.2" fill="#cccccc" stroke="#cccccc"/>
<polygon points="1714.3,1257.2 1720.2,1257.2 1720.0,1275.1 1714.7,1275.6" fill="#0048c4" stroke="#0048c4"/>
<polygon points="1708.9,1258.1 1714.1,1257.6 1714.7,1275.6 1710.0,1276.0" fill="#dc3800" stroke="#dc3800"/>
<polygon points="1714.7,1275.6 1719.2,1275.4 1718.8,1294.9 1714.7,1294.9" fill="#cccccc" stroke="#cccccc"/>
<polygon points="1725.4,1257.2 1731.0,1257.0 1729.6,1275.1 1733.1,1275.8 1731.5,1281.7 1726.3,1314.9 1720.2,1314.9" fill="#a00000" stroke="#a00000"/>
<polygon points="1718.3,1294.9 1721.6,1294.4 1720.2,1314.7 1717.4,1314.2" fill="#cccccc" stroke="#cccccc"/>
<polygon points="1741.4,1259.1 1747.1,1260.2 1739.1,1290.2 1732.5,1315.2 1726.3,1314.9 1731.5,1281.7 1734.3,1276.0" fill="#cccccc" stroke="#cccccc"/>
<polygon points="1747.5,1260.5 1752.7,1261.7 1758.1,1245.4 1764.1,1247.0 1757.5,1264.7 1751.3,1281.7 1745.2,1298.2 1737.6,1296.3 1742.8,1276.0" fill="#900000" stroke="#900000"/>
<polygon points="1757.9,1264.2 1762.6,1265.7 1756.0,1282.6 1752.7,1281.7" fill="#dc3800" stroke="#dc3800"/>
<polygon points="1770.2,1231.2 1776.3,1234.1 1763.1,1265.7 1758.4,1263.3" fill="#cccccc" stroke="#cccccc"/>
<polygon points="1784.3,1219.0 1792.1,1222.3 1776.8,1254.3 1768.3,1270.4 1760.3,1285.0 1755.6,1282.6 1763.6,1265.7 1775.8,1236.4" fill="#000c90" stroke="#000c90"/>
<polygon points="1784.3,1237.8 1790.0,1241.1 1782.9,1255.8 1776.8,1252.9" fill="#900000" stroke="#900000"/>
<polygon points="1790.0,1241.1 1797.1,1245.4 1788.6,1259.1 1782.9,1255.8" fill="#cccccc" stroke="#cccccc"/>
<polygon points="1775.8,1254.3 1782.0,1256.2 1774.0,1271.3 1768.3,1268.0" fill="#cccccc" stroke="#cccccc"/>
<polygon points="1782.0,1256.2 1787.6,1259.5 1779.2,1273.2 1773.5,1270.8" fill="#000088" stroke="#000088"/>
<polygon points="1787.6,1259.5 1792.4,1263.8 1782.5,1277.9 1779.2,1273.2" fill="#cccccc" stroke="#cccccc"/>
<polygon points="1768.8,1276.0 1774.0,1278.9 1767.8,1290.2 1763.6,1286.9" fill="#cccccc" stroke="#cccccc"/>
<polygon points="1797.1,1268.0 1802.3,1273.2 1790.5,1285.9 1786.2,1281.7" fill="#a00000" stroke="#a00000"/>
<polygon points="1686.2,1308.1 1696.6,1300.6 1704.2,1297.3 1711.7,1295.4 1718.3,1294.9 1718.3,1315.2 1711.7,1317.5 1704.2,1322.3 1698.5,1327.9 1693.8,1333.6 1690.0,1332.6" fill="#b00000" stroke="#b00000"/>
<polygon points="1693.8,1302.9 1697.1,1301.0 1709.3,1318.5 1707.0,1319.9" fill="#c81c00" stroke="#c81c00"/>
<polygon points="1697.1,1301.0 1700.4,1299.6 1712.2,1317.1 1709.3,1318.5" fill="#0048c4" stroke="#0048c4"/>
<polygon points="1732.9,1295.4 1737.2,1296.3 1731.5,1315.7 1728.7,1315.2" fill="#0048c4" stroke="#0048c4"/>
<polygon points="1737.2,1296.3 1744.2,1298.2 1737.2,1317.5 1731.5,1315.7" fill="#cccccc" stroke="#cccccc"/>
<polygon points="1744.2,1298.2 1748.0,1299.6 1740.0,1319.0 1737.2,1317.5" fill="#0058d8" stroke="#0058d8"/>
<polygon points="1750.8,1302.0 1754.6,1303.9 1745.2,1322.7 1741.9,1320.4" fill="#ffa030" stroke="#ffa030"/>
<polygon points="1754.6,1303.9 1757.7,1305.8 1747.5,1324.2 1745.2,1322.7" fill="#ffe0c0" stroke="#ffe0c0"/>
<polygon points="1765.0,1314.9 1768.3,1318.0 1755.1,1335.5 1752.5,1332.2" fill="#0068e0" stroke="#0068e0"/>
<polygon points="1757.8,1118.0 1771.1,1119.9 1769.2,1132.0 1756.5,1130.1" fill="#a80000" stroke="#a80000"/>
<polygon points="1739.9,1174.1 1750.6,1174.5 1748.7,1191.7 1738.9,1189.7" fill="#cccccc" stroke="#cccccc"/>
<polygon points="1585.4,1243.5 1596.2,1253.2 1589.3,1261.1 1577.2,1251.3" fill="#900000" stroke="#900000"/>
<polygon points="1572.1,1260.1 1585.8,1268.9 1580.5,1275.7 1566.8,1267.9" fill="#cccccc" stroke="#cccccc"/></g>
</g>
<rect x="150.6" y="895.2" width="38.0" height="195.4" fill="url(#gb)"/>
<rect x="150.6" y="1090.6" width="38.0" height="43.4" fill="#cccccc"/>
<rect x="150.6" y="1134.0" width="38.0" height="195.4" fill="url(#gr)"/>
<rect x="150.6" y="895.2" width="38.0" height="434.2" fill="none" stroke="#000" stroke-width="1.3"/>
<line x1="150.6" y1="949.5" x2="188.6" y2="949.5" stroke="#000" stroke-width="1.3"/>
<line x1="150.6" y1="1003.8" x2="188.6" y2="1003.8" stroke="#000" stroke-width="1.3"/>
<line x1="150.6" y1="1058.0" x2="188.6" y2="1058.0" stroke="#000" stroke-width="1.3"/>
<line x1="150.6" y1="1112.3" x2="188.6" y2="1112.3" stroke="#000" stroke-width="1.3"/>
<line x1="150.6" y1="1166.6" x2="188.6" y2="1166.6" stroke="#000" stroke-width="1.3"/>
<line x1="150.6" y1="1220.9" x2="188.6" y2="1220.9" stroke="#000" stroke-width="1.3"/>
<line x1="150.6" y1="1275.2" x2="188.6" y2="1275.2" stroke="#000" stroke-width="1.3"/>
<text x="136.2" y="895.5" font-size="24.5" text-anchor="end" fill="#000">100</text>
<text x="136.2" y="949.8" font-size="24.5" text-anchor="end" fill="#000">75</text>
<text x="136.2" y="1004.1" font-size="24.5" text-anchor="end" fill="#000">50</text>
<text x="136.2" y="1058.3" font-size="24.5" text-anchor="end" fill="#000">25</text>
<text x="136.2" y="1112.6" font-size="24.5" text-anchor="end" fill="#000">0</text>
<text x="136.2" y="1166.9" font-size="24.5" text-anchor="end" fill="#000">-25</text>
<text x="136.2" y="1221.2" font-size="24.5" text-anchor="end" fill="#000">-50</text>
<text x="136.2" y="1275.5" font-size="24.5" text-anchor="end" fill="#000">-75</text>
<text x="136.2" y="1329.7" font-size="24.5" text-anchor="end" fill="#000">-100</text>
<text x="202.5" y="915.5" font-size="25.2" text-anchor="start" fill="#000">toward</text>
<text x="202.5" y="1090.1" font-size="24.5" text-anchor="start" fill="#000">10</text>
<text x="202.5" y="1154.5" font-size="24.5" text-anchor="start" fill="#000">-10</text>
<text x="202.5" y="1328.4" font-size="24.5" text-anchor="start" fill="#000">away</text>
<text x="75.0" y="852.2" font-size="31.5" text-anchor="start" fill="#000">Velocity (m/s)</text>
<text x="402.9" y="985.2" font-size="33.0" text-anchor="middle" fill="#000">Frequency</text>
<text x="317.7" y="1017.8" font-size="30.3" text-anchor="middle" fill="#000">cvw</text>
<rect class="bx" x="298.9" y="1029.8" width="37.6" height="299.5"/>
<line class="bx" x1="298.9" y1="1299.3" x2="336.5" y2="1299.3"/>
<line class="bx" x1="298.9" y1="1269.4" x2="336.5" y2="1269.4"/>
<line class="bx" x1="298.9" y1="1239.5" x2="336.5" y2="1239.5"/>
<line class="bx" x1="298.9" y1="1209.5" x2="336.5" y2="1209.5"/>
<line class="bx" x1="298.9" y1="1179.5" x2="336.5" y2="1179.5"/>
<line class="bx" x1="298.9" y1="1149.6" x2="336.5" y2="1149.6"/>
<line class="bx" x1="298.9" y1="1119.6" x2="336.5" y2="1119.6"/>
<line class="bx" x1="298.9" y1="1089.7" x2="336.5" y2="1089.7"/>
<line class="bx" x1="298.9" y1="1059.8" x2="336.5" y2="1059.8"/>
<text x="374.4" y="1017.8" font-size="30.3" text-anchor="middle" fill="#000">cve</text>
<rect class="bx" x="355.6" y="1029.8" width="37.6" height="299.5"/>
<line class="bx" x1="355.6" y1="1299.3" x2="393.2" y2="1299.3"/>
<line class="bx" x1="355.6" y1="1269.4" x2="393.2" y2="1269.4"/>
<line class="bx" x1="355.6" y1="1239.5" x2="393.2" y2="1239.5"/>
<line class="bx" x1="355.6" y1="1209.5" x2="393.2" y2="1209.5"/>
<line class="bx" x1="355.6" y1="1179.5" x2="393.2" y2="1179.5"/>
<line class="bx" x1="355.6" y1="1149.6" x2="393.2" y2="1149.6"/>
<line class="bx" x1="355.6" y1="1119.6" x2="393.2" y2="1119.6"/>
<line class="bx" x1="355.6" y1="1089.7" x2="393.2" y2="1089.7"/>
<line class="bx" x1="355.6" y1="1059.8" x2="393.2" y2="1059.8"/>
<text x="431.1" y="1017.8" font-size="30.3" text-anchor="middle" fill="#000">fhw</text>
<rect class="bx" x="412.3" y="1029.8" width="37.6" height="299.5"/>
<line class="bx" x1="412.3" y1="1299.3" x2="449.9" y2="1299.3"/>
<line class="bx" x1="412.3" y1="1269.4" x2="449.9" y2="1269.4"/>
<line class="bx" x1="412.3" y1="1239.5" x2="449.9" y2="1239.5"/>
<line class="bx" x1="412.3" y1="1209.5" x2="449.9" y2="1209.5"/>
<line class="bx" x1="412.3" y1="1179.5" x2="449.9" y2="1179.5"/>
<line class="bx" x1="412.3" y1="1149.6" x2="449.9" y2="1149.6"/>
<line class="bx" x1="412.3" y1="1119.6" x2="449.9" y2="1119.6"/>
<line class="bx" x1="412.3" y1="1089.7" x2="449.9" y2="1089.7"/>
<line class="bx" x1="412.3" y1="1059.8" x2="449.9" y2="1059.8"/>
<text x="487.7" y="1017.8" font-size="30.3" text-anchor="middle" fill="#000">fhe</text>
<rect class="bx" x="468.9" y="1029.8" width="37.6" height="299.5"/>
<line class="bx" x1="468.9" y1="1299.3" x2="506.5" y2="1299.3"/>
<line class="bx" x1="468.9" y1="1269.4" x2="506.5" y2="1269.4"/>
<line class="bx" x1="468.9" y1="1239.5" x2="506.5" y2="1239.5"/>
<line class="bx" x1="468.9" y1="1209.5" x2="506.5" y2="1209.5"/>
<line class="bx" x1="468.9" y1="1179.5" x2="506.5" y2="1179.5"/>
<line class="bx" x1="468.9" y1="1149.6" x2="506.5" y2="1149.6"/>
<line class="bx" x1="468.9" y1="1119.6" x2="506.5" y2="1119.6"/>
<line class="bx" x1="468.9" y1="1089.7" x2="506.5" y2="1089.7"/>
<line class="bx" x1="468.9" y1="1059.8" x2="506.5" y2="1059.8"/>
<text x="291.6" y="1341.7" font-size="24.5" text-anchor="end" fill="#000">8</text>
<text x="514.9" y="1341.7" font-size="24.5" text-anchor="start" fill="#000">8</text>
<text x="291.6" y="1311.8" font-size="24.5" text-anchor="end" fill="#000">9</text>
<text x="514.9" y="1311.8" font-size="24.5" text-anchor="start" fill="#000">9</text>
<text x="291.6" y="1281.8" font-size="24.5" text-anchor="end" fill="#000">10</text>
<text x="514.9" y="1281.8" font-size="24.5" text-anchor="start" fill="#000">10</text>
<text x="291.6" y="1251.9" font-size="24.5" text-anchor="end" fill="#000">11</text>
<text x="514.9" y="1251.9" font-size="24.5" text-anchor="start" fill="#000">11</text>
<text x="291.6" y="1221.9" font-size="24.5" text-anchor="end" fill="#000">12</text>
<text x="514.9" y="1221.9" font-size="24.5" text-anchor="start" fill="#000">12</text>
<text x="291.6" y="1192.0" font-size="24.5" text-anchor="end" fill="#000">13</text>
<text x="514.9" y="1192.0" font-size="24.5" text-anchor="start" fill="#000">13</text>
<text x="291.6" y="1162.0" font-size="24.5" text-anchor="end" fill="#000">14</text>
<text x="514.9" y="1162.0" font-size="24.5" text-anchor="start" fill="#000">14</text>
<text x="291.6" y="1132.0" font-size="24.5" text-anchor="end" fill="#000">15</text>
<text x="514.9" y="1132.0" font-size="24.5" text-anchor="start" fill="#000">15</text>
<text x="291.6" y="1102.1" font-size="24.5" text-anchor="end" fill="#000">16</text>
<text x="514.9" y="1102.1" font-size="24.5" text-anchor="start" fill="#000">16</text>
<text x="291.6" y="1072.2" font-size="24.5" text-anchor="end" fill="#000">17</text>
<text x="514.9" y="1072.2" font-size="24.5" text-anchor="start" fill="#000">17</text>
<text x="291.6" y="1042.2" font-size="24.5" text-anchor="end" fill="#000">18</text>
<text x="514.9" y="1042.2" font-size="24.5" text-anchor="start" fill="#000">18</text>
<rect x="298.4" y="1247.4" width="39.1" height="11.3" fill="#ff4400"/>
<rect x="292.9" y="1247.4" width="49.1" height="2.6" fill="#ff4400"/>
<rect x="292.9" y="1256.1" width="49.1" height="2.6" fill="#ff4400"/>
<rect x="468.4" y="1247.4" width="39.1" height="11.3" fill="#ff4400"/>
<rect x="462.9" y="1247.4" width="49.1" height="2.6" fill="#ff4400"/>
<rect x="462.9" y="1256.1" width="49.1" height="2.6" fill="#ff4400"/>
<rect x="349.6" y="1241.2" width="49.1" height="2.8" fill="#ff4400"/>
<rect x="406.3" y="1241.2" width="49.1" height="2.8" fill="#ff4400"/>
<text x="1001.5" y="1393.2" font-size="33.0" text-anchor="start" fill="#000">cvw</text>
<text x="1077.5" y="1393.2" font-size="33.0" text-anchor="start" fill="#000">cve</text>
<text x="1077.5" y="1421.4" font-size="33.0" text-anchor="start" fill="#ff00ff">b23</text>
<text x="1658.2" y="1396.8" font-size="33.0" text-anchor="start" fill="#000">fhw</text>
<text x="1728.6" y="1396.8" font-size="33.0" text-anchor="start" fill="#000">fhe</text>
<text x="1663.5" y="1424.3" font-size="33.0" text-anchor="start" fill="#ff00ff">b00</text>
<text x="61.5" y="67.0" font-size="30.5" text-anchor="start" fill="#000" textLength="229.5" lengthAdjust="spacingAndGlyphs">March, 23 2020</text>
<text x="61.5" y="94.7" font-size="30.5" text-anchor="start" fill="#000" textLength="173.5" lengthAdjust="spacingAndGlyphs">0654:53 UT</text>
<g clip-path="url(#mc)">
<polygon class="mg" points="1095.3,1361.6 1098.2,1357.6 1117.0,1350.4 1141.0,1343.2 1164.9,1337.6 1196.9,1332.0 1228.9,1327.6 1260.9,1324.0 1285.0,1323.2 1295.2,1323.7 1319.1,1326.1 1331.9,1325.2 1392.6,1311.4 1416.5,1306.8 1616.9,1270.0 1680.0,1255.5 2295.6,1103.5 2315.8,1175.0 1700.0,1287.5 1607.7,1301.3 1493.7,1318.2 1423.9,1327.0 1392.6,1331.6 1333.8,1340.8 1319.1,1340.8 1295.2,1338.0 1285.0,1336.8 1276.8,1335.6 1260.9,1336.0 1228.9,1339.2 1196.9,1342.8 1164.9,1347.2 1141.0,1351.2 1117.0,1356.8 1096.2,1363.2"/>
<polygon class="mg" points="541.5,1089.6 760.0,1150.3 880.0,1181.6 1042.2,1222.6 1210.6,1263.5 1249.2,1272.8 1331.9,1290.2 1392.6,1304.0 1457.0,1317.4 1479.0,1318.7 1506.6,1318.2 1552.6,1325.2 1631.6,1341.7 1692.9,1356.9 1693.9,1360.2 1692.9,1362.5 1631.6,1347.2 1515.8,1332.1 1502.9,1331.6 1469.8,1334.4 1453.3,1333.4 1392.6,1324.2 1331.9,1315.0 1240.0,1297.6 1210.6,1292.2 1042.2,1261.9 840.0,1223.1 524.6,1151.4"/>
<g stroke-width="0.7" stroke-linejoin="miter"><polygon points="1632.1,1341.8 1670.3,1351.2 1670.3,1356.7 1632.1,1347.3" fill="#900000" stroke="#900000"/>
<polygon points="1670.3,1351.2 1692.9,1356.9 1693.7,1360.0 1692.9,1362.3 1670.3,1356.7" fill="#b00000" stroke="#b00000"/>
<polygon points="1633.0,1335.7 1670.3,1345.6 1691.0,1352.6 1691.3,1355.5 1670.3,1350.0 1632.1,1340.6" fill="#c81c00" stroke="#c81c00"/></g>
</g>
</svg></body></html>
